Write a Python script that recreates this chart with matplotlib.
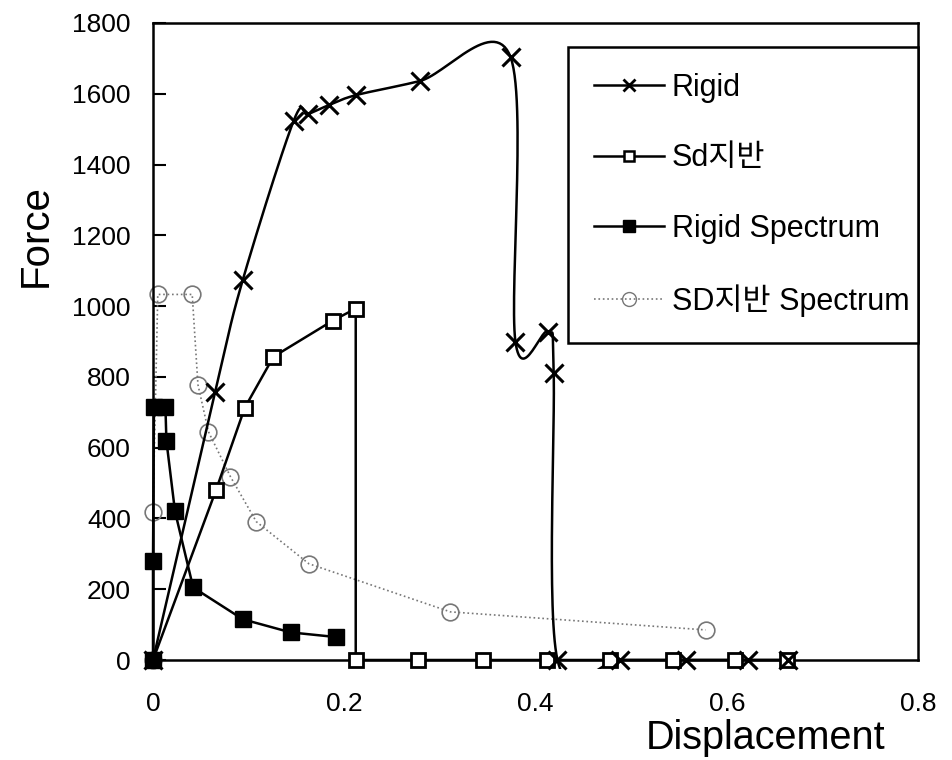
import numpy as np
import matplotlib
matplotlib.use("Agg")
import matplotlib.pyplot as plt
from matplotlib.patches import Rectangle

plt.rcParams['font.family'] = ['Liberation Sans', 'Noto Sans CJK KR', 'DejaVu Sans']

# ---------------- data ----------------
rigid_x = [0, 0.065, 0.094, 0.147, 0.162, 0.184, 0.212, 0.279, 0.374, 0.379, 0.413, 0.419, 0.423, 0.488, 0.557, 0.622, 0.664]
rigid_y = [0, 758, 1075, 1523, 1542, 1568, 1596, 1636, 1703, 900, 928, 812, 0, 0, 0, 0, 0]

sd_x = [0, 0.066, 0.096, 0.126, 0.188, 0.212, 0.212, 0.277, 0.345, 0.412, 0.478, 0.544, 0.609, 0.663]
sd_y = [0, 481, 713, 857, 959, 993, 0, 0, 0, 0, 0, 0, 0, 0]

rspec_x = [0, 0, 0.001, 0.013, 0.014, 0.023, 0.042, 0.094, 0.144, 0.191]
rspec_y = [0, 280, 716, 716, 620, 420, 205, 115, 78, 65]

sdspec_x = [0, 0, 0.005, 0.041, 0.047, 0.058, 0.081, 0.108, 0.163, 0.311, 0.578]
sdspec_y = [0, 419, 1033, 1033, 778, 645, 518, 391, 272, 136, 85]

labels = ['Rigid', 'Sd지반', 'Rigid Spectrum', 'SD지반 Spectrum']
xticks = [0, 0.2, 0.4, 0.6, 0.8]
xticklabels = ['0', '0.2', '0.4', '0.6', '0.8']
yticks = list(range(0, 1801, 200))


def smooth(xs, ys, n=30):
    """Excel-style smoothed line (uniform Catmull-Rom through the points)."""
    P = np.column_stack([xs, ys]).astype(float)
    ext = np.vstack([P[0], P, P[-1]])
    out = []
    t = np.linspace(0, 1, n)
    for i in range(1, len(ext) - 2):
        p0, p1, p2, p3 = ext[i - 1], ext[i], ext[i + 1], ext[i + 2]
        c1 = p1 + (p2 - p0) / 6.0
        c2 = p2 - (p3 - p1) / 6.0
        seg = ((1 - t) ** 3)[:, None] * p1 + (3 * (1 - t) ** 2 * t)[:, None] * c1 \
            + (3 * (1 - t) * t ** 2)[:, None] * c2 + (t ** 3)[:, None] * p2
        out.append(seg if i == 1 else seg[1:])
    out = np.vstack(out)
    return out[:, 0], out[:, 1]


fig = plt.figure(figsize=(9.52, 7.6), dpi=100)
ax = fig.add_axes([153 / 952, 100 / 760, 765 / 952, 637 / 760])

# Rigid (smoothed line + x markers)
sx, sy = smooth(rigid_x, rigid_y)
rl, = ax.plot(sx, sy, color='black', lw=1.8, zorder=3)
rl.set_clip_path(Rectangle((0, -0.014), 1, 1.1, transform=ax.transAxes))
ax.plot(rigid_x, rigid_y, ls='none', marker='x', ms=13, mew=2.2, color='black', zorder=5, clip_on=False)
h_rigid = plt.Line2D([], [], color='black', lw=1.8, marker='x', ms=9, mew=2)

# Sd
ax.plot(sd_x, sd_y, color='black', lw=1.8, marker='s', ms=10, mew=2,
        mfc='white', mec='black', zorder=4, clip_on=False)
h_sd = plt.Line2D([], [], color='black', lw=1.8, marker='s', ms=7, mew=1.8, mfc='white')

# Rigid Spectrum
ax.plot(rspec_x, rspec_y, color='black', lw=1.8, marker='s', ms=11, mew=1,
        mfc='black', mec='black', zorder=4, clip_on=False)
h_rs = plt.Line2D([], [], color='black', lw=1.8, marker='s', ms=9, mfc='black')

# SD Spectrum
ax.plot(sdspec_x, sdspec_y, color='#777777', lw=1.2, ls=':', zorder=2, clip_on=False)
ax.plot(sdspec_x, sdspec_y, ls='none', marker='o', ms=12, mew=1.2, mfc='none',
        mec='#777777', zorder=2, clip_on=False)
h_sds = plt.Line2D([], [], color='#777777', lw=1.2, ls=':', marker='o', ms=10, mfc='none', mec='#777777')

ax.set_xlim(0, 0.8)
ax.set_ylim(0, 1800)
ax.set_xticks(xticks)
ax.set_xticklabels(xticklabels)
ax.set_yticks(yticks)
ax.tick_params(axis='y', direction='in', length=9, width=1.5, pad=16, labelsize=19)
ax.tick_params(axis='x', length=0, pad=23, labelsize=19)
for s in ax.spines.values():
    s.set_linewidth(1.8)
    s.set_color('black')

ax.set_xlabel('Displacement', fontsize=28.5)
ax.xaxis.set_label_coords(0.801, -0.093)
ax.set_ylabel('Force', fontsize=29)
ax.yaxis.set_label_coords(-0.128, 0.667)

leg = ax.legend([h_rigid, h_sd, h_rs, h_sds], labels,
                loc='upper left', bbox_to_anchor=(0.5425, 0.5008, 0.4575, 0.4615),
                mode='expand', borderaxespad=0, fontsize=22, frameon=True,
                fancybox=False, framealpha=1, edgecolor='black',
                handlelength=2.3, handletextpad=0.25, labelspacing=1.32, borderpad=0.85)
leg.get_frame().set_linewidth(1.8)

fig.savefig('out.png', dpi=100)
